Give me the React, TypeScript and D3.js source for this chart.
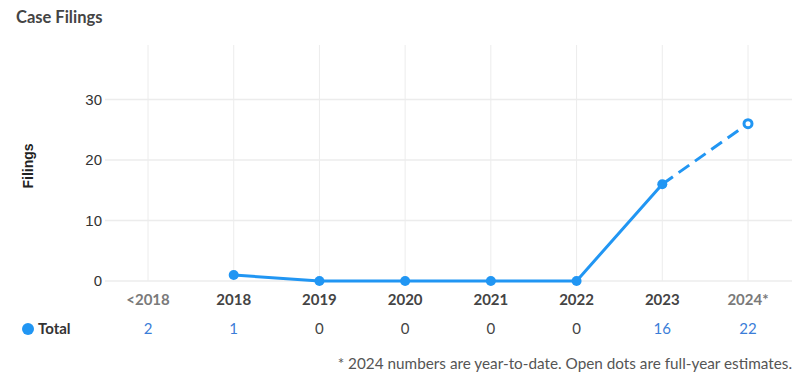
import React from 'react';
import * as d3 from 'd3';

// chart data
const categories = ['<2018', '2018', '2019', '2020', '2021', '2022', '2023', '2024*'];
const totals = [2, 1, 0, 0, 0, 0, 16, 22];
const plotted: (number | null)[] = [null, 1, 0, 0, 0, 0, 16, null];
const estimate2024 = 26;
const yTicks = [0, 10, 20, 30];
const mutedLabels = ['<2018', '2024*'];

const W = 800;
const H = 388;
const blue = '#2196f3';
const lato = 'Lato, "Open Sans", sans-serif';
const arial = '"Liberation Sans", Arial, sans-serif';

export default function App() {
	// x positions of the categories
	const x = d3.scalePoint<string>().domain(categories).range([148, 748]);
	const y = d3.scaleLinear().domain([0, 39]).range([281, 45]);

	const pts = categories
		.map((c, i) => ({ c, v: plotted[i] }))
		.filter((d) => d.v !== null) as { c: string; v: number }[];

	const lineGen = d3
		.line<{ c: string; v: number }>()
		.x((d) => x(d.c) as number)
		.y((d) => y(d.v));

	const dashed = [
		{ c: '2023', v: 16 },
		{ c: '2024*', v: estimate2024 },
	];

	return (
		<svg width={W} height={H} style={{ position: 'absolute', left: 0, top: 0 }}>
			<text x={16} y={23} fontFamily={lato} fontWeight={700} fontSize={16.5} fill="#444">
				Case Filings
			</text>

			{/* grid */}
			{categories.map((c) => (
				<line key={c} x1={x(c)} x2={x(c)} y1={45} y2={281} stroke="#ececec" strokeWidth={1} />
			))}
			{yTicks.map((t) => (
				<line key={t} x1={105} x2={792} y1={y(t)} y2={y(t)} stroke="#ececec" strokeWidth={1.5} />
			))}

			{/* y axis */}
			{yTicks.map((t) => (
				<text key={t} x={102} y={y(t)} dy="0.35em" textAnchor="end" fontFamily={arial} fontSize={15} fill="#333">
					{t}
				</text>
			))}
			<text
				transform={`translate(33,166) rotate(-90)`}
				textAnchor="middle"
				fontFamily={arial}
				fontWeight={700}
				fontSize={14}
				fill="#222"
			>
				Filings
			</text>

			{/* lines */}
			<path d={lineGen(pts) || ''} fill="none" stroke={blue} strokeWidth={3} />
			<path d={lineGen(dashed) || ''} fill="none" stroke={blue} strokeWidth={3} strokeDasharray="13,7" />
			{pts.map((d) => (
				<circle key={d.c} cx={x(d.c)} cy={y(d.v)} r={5} fill={blue} />
			))}
			<circle cx={x('2024*')} cy={y(estimate2024)} r={4} fill="#fff" stroke={blue} strokeWidth={3} />

			{/* x labels */}
			{categories.map((c) => (
				<text
					key={c}
					x={x(c)}
					y={305}
					textAnchor="middle"
					fontFamily={lato}
					fontWeight={700}
					fontSize={15}
					fill={mutedLabels.includes(c) ? '#7a7a7a' : '#444'}
				>
					{c}
				</text>
			))}

			{/* totals row */}
			<circle cx={28} cy={329} r={6} fill={blue} />
			<text x={38} y={334} fontFamily={lato} fontWeight={700} fontSize={15} fill="#333">
				Total
			</text>
			{categories.map((c, i) => (
				<text
					key={c}
					x={x(c)}
					y={334}
					textAnchor="middle"
					fontFamily={lato}
					fontSize={15}
					fill={totals[i] > 0 ? '#3b7dd8' : '#444'}
				>
					{totals[i]}
				</text>
			))}

			<text x={792} y={369} textAnchor="end" fontFamily={lato} fontSize={15.3} fill="#555">
				* 2024 numbers are year-to-date. Open dots are full-year estimates.
			</text>
		</svg>
	);
}
